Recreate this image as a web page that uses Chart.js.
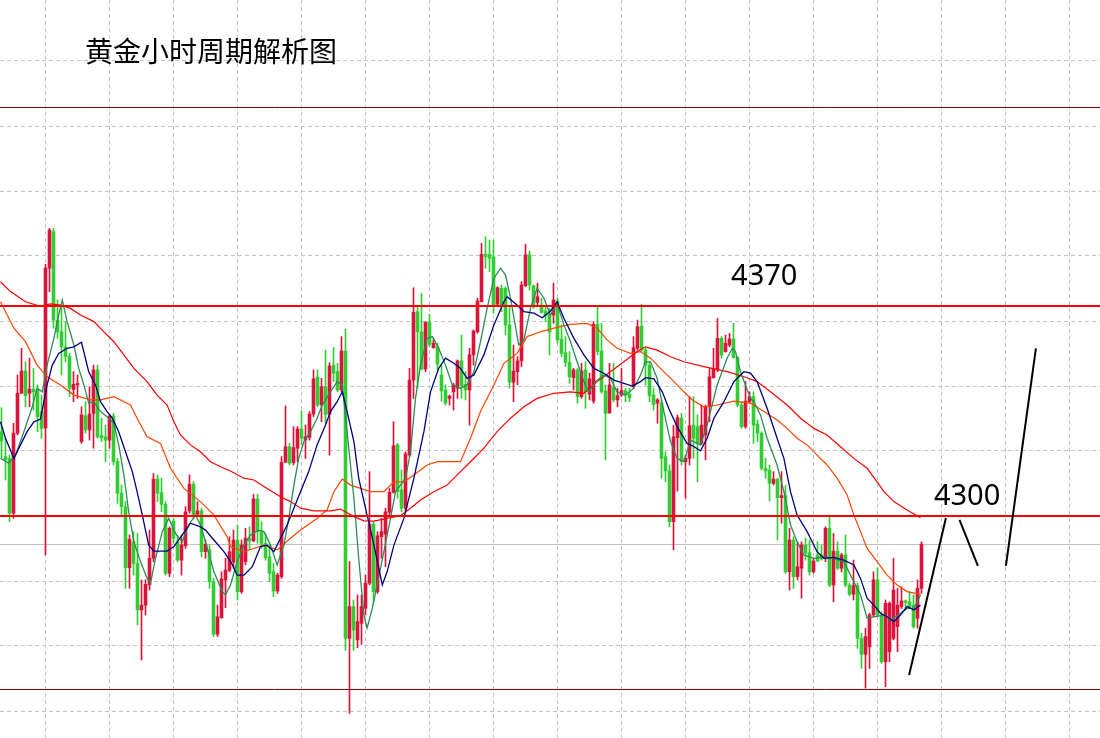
<!DOCTYPE html>
<html>
<head>
<meta charset="utf-8">
<title>黄金小时周期解析图</title>
<script src="https://cdn.jsdelivr.net/npm/chart.js@4.4.1/dist/chart.umd.min.js"></script>
<style>
  html, body { margin: 0; padding: 0; background: #fff; }
  canvas { display: block; }
</style>
</head>
<body>
<canvas id="chart" width="1100" height="738"></canvas>
<script>
// ──────────────────────────────────────────────
// Gold H1 chart — candles, moving averages, levels
// ──────────────────────────────────────────────

const titleText = '黄金小时周期解析图';

// ── Candles (one per hour, oldest first) ──
const open = [
  4328.1, 4319.8, 4319.2, 4300.9, 4327.6, 4340.9, 4348.3, 4340.9, 4342.3, 4342.0,
  4334.8, 4329.4, 4382.6, 4394.8, 4365.3, 4361.4, 4356.4, 4353.3, 4342.2, 4343.7,
  4324.8, 4333.4, 4328.7, 4334.2, 4348.7, 4326.8, 4326.4, 4325.3, 4333.3, 4318.1,
  4307.6, 4303.1, 4282.8, 4291.4, 4284.2, 4268.7, 4270.3, 4277.0, 4285.9, 4312.3,
  4307.8, 4303.9, 4280.9, 4298.3, 4291.4, 4285.3, 4290.1, 4301.7, 4310.6, 4300.6,
  4301.7, 4288.1, 4288.7, 4278.1, 4260.6, 4266.1, 4278.7, 4281.9, 4284.6, 4292.0,
  4274.8, 4284.8, 4292.6, 4291.7, 4305.7, 4294.8, 4290.9, 4286.4, 4281.4, 4275.0,
  4279.8, 4317.9, 4323.1, 4317.8, 4322.6, 4329.0, 4325.3, 4326.2, 4334.0, 4346.3,
  4337.0, 4343.1, 4333.9, 4350.3, 4348.1, 4342.0, 4355.0, 4259.2, 4269.8, 4258.7,
  4264.2, 4269.2, 4277.6, 4297.3, 4274.8, 4293.1, 4293.9, 4301.2, 4307.9, 4323.7,
  4308.7, 4302.6, 4320.3, 4345.3, 4368.1, 4361.4, 4349.0, 4364.6, 4356.1, 4356.4,
  4347.0, 4342.0, 4339.2, 4341.4, 4342.6, 4351.7, 4343.9, 4342.0, 4353.7, 4361.4,
  4371.4, 4387.2, 4387.2, 4386.4, 4370.6, 4375.9, 4375.9, 4363.7, 4344.6, 4348.1,
  4351.7, 4376.8, 4387.0, 4376.7, 4371.2, 4370.3, 4368.3, 4367.2, 4367.0, 4371.7,
  4359.0, 4354.4, 4351.2, 4346.1, 4348.7, 4339.8, 4348.7, 4340.6, 4338.3, 4363.9,
  4355.0, 4341.7, 4334.4, 4342.8, 4338.7, 4340.3, 4341.8, 4340.6, 4343.1, 4355.9,
  4363.3, 4355.3, 4350.3, 4340.3, 4337.6, 4337.6, 4319.8, 4315.0, 4298.1, 4326.1,
  4332.6, 4318.1, 4319.2, 4330.3, 4329.8, 4324.2, 4327.0, 4336.4, 4346.1, 4348.7,
  4359.2, 4354.8, 4357.0, 4359.0, 4352.8, 4337.0, 4329.8, 4338.1, 4339.8, 4330.6,
  4327.6, 4315.9, 4315.3, 4310.9, 4312.3, 4306.1, 4306.8, 4281.4, 4292.0, 4279.8,
  4282.6, 4290.3, 4287.8, 4281.4, 4287.0, 4287.0, 4285.9, 4295.9, 4277.0, 4288.3,
  4282.6, 4287.0, 4277.0, 4273.9, 4276.8, 4259.2, 4253.9, 4256.4, 4267.0, 4278.7,
  4267.0, 4251.4, 4254.8, 4259.2, 4263.1, 4269.8, 4271.7, 4271.4, 4270.3, 4265.9,
  4275.9
];
const high = [
  4336.1, 4325.9, 4320.3, 4330.9, 4347.0, 4355.9, 4351.4, 4352.6, 4349.2, 4343.7,
  4340.3, 4383.9, 4395.9, 4395.9, 4372.0, 4370.3, 4364.8, 4354.2, 4348.1, 4347.0,
  4336.4, 4338.1, 4343.1, 4350.3, 4350.3, 4332.6, 4330.3, 4333.7, 4334.2, 4319.2,
  4310.3, 4304.8, 4293.7, 4294.8, 4294.2, 4278.7, 4278.7, 4295.3, 4314.2, 4313.7,
  4312.6, 4304.8, 4296.4, 4299.2, 4293.7, 4293.7, 4303.1, 4313.7, 4311.4, 4304.8,
  4302.6, 4292.0, 4290.3, 4279.2, 4270.3, 4281.4, 4285.9, 4293.1, 4295.3, 4297.0,
  4292.0, 4295.9, 4296.4, 4307.2, 4307.2, 4298.1, 4294.2, 4290.3, 4284.2, 4280.9,
  4319.8, 4336.7, 4324.2, 4329.8, 4329.8, 4335.0, 4330.3, 4334.8, 4348.7, 4348.7,
  4345.9, 4355.3, 4351.1, 4356.2, 4350.9, 4359.8, 4362.3, 4284.8, 4272.0, 4273.7,
  4273.7, 4280.3, 4314.8, 4298.1, 4294.8, 4299.2, 4302.6, 4309.2, 4331.4, 4324.2,
  4315.3, 4321.4, 4349.2, 4376.1, 4369.8, 4374.2, 4364.8, 4367.2, 4359.2, 4357.6,
  4350.3, 4343.7, 4340.3, 4344.2, 4352.0, 4360.3, 4348.1, 4355.9, 4362.0, 4372.6,
  4390.9, 4393.1, 4392.0, 4392.0, 4376.4, 4377.0, 4376.4, 4369.8, 4357.0, 4353.1,
  4378.1, 4390.6, 4388.3, 4377.0, 4377.6, 4372.6, 4370.3, 4369.2, 4377.6, 4372.6,
  4363.7, 4359.8, 4354.8, 4349.2, 4349.2, 4350.9, 4351.4, 4347.6, 4364.8, 4369.8,
  4364.2, 4343.7, 4350.9, 4350.9, 4342.6, 4349.2, 4342.6, 4342.6, 4359.8, 4365.3,
  4370.6, 4355.9, 4351.4, 4342.6, 4339.2, 4338.7, 4321.4, 4317.0, 4330.3, 4333.7,
  4334.2, 4320.3, 4339.8, 4339.8, 4333.7, 4337.0, 4337.0, 4349.2, 4355.9, 4365.9,
  4359.8, 4360.3, 4360.9, 4364.2, 4353.1, 4338.1, 4344.8, 4341.4, 4341.4, 4332.0,
  4328.1, 4319.2, 4317.0, 4314.8, 4312.6, 4314.8, 4310.3, 4295.9, 4293.1, 4291.4,
  4291.4, 4292.6, 4292.0, 4285.9, 4291.4, 4290.3, 4296.4, 4300.3, 4294.2, 4291.4,
  4287.6, 4293.7, 4277.6, 4285.3, 4277.6, 4260.9, 4262.6, 4267.6, 4281.4, 4282.6,
  4268.1, 4272.0, 4271.4, 4285.9, 4275.9, 4276.4, 4272.0, 4274.8, 4273.7, 4278.7,
  4291.4
];
const low = [
  4319.2, 4312.0, 4298.1, 4299.2, 4327.0, 4340.9, 4336.4, 4336.4, 4335.3, 4328.1,
  4325.9, 4287.0, 4374.8, 4362.6, 4359.2, 4347.0, 4351.4, 4339.8, 4338.1, 4339.2,
  4324.2, 4327.6, 4325.3, 4322.6, 4325.9, 4324.8, 4318.1, 4322.6, 4317.0, 4304.2,
  4300.3, 4275.9, 4275.9, 4280.3, 4263.7, 4252.0, 4267.0, 4275.3, 4284.8, 4304.8,
  4301.4, 4280.3, 4279.8, 4290.9, 4284.8, 4280.3, 4289.2, 4300.9, 4299.2, 4300.3,
  4286.4, 4285.9, 4275.9, 4259.8, 4259.8, 4265.9, 4269.4, 4281.4, 4282.6, 4272.0,
  4274.2, 4283.7, 4288.7, 4291.4, 4290.9, 4289.2, 4285.3, 4278.1, 4273.1, 4274.2,
  4279.2, 4317.9, 4317.0, 4317.0, 4318.1, 4323.7, 4319.2, 4325.3, 4333.1, 4336.4,
  4331.4, 4330.9, 4320.3, 4344.8, 4341.4, 4341.4, 4255.3, 4234.2, 4255.3, 4256.1,
  4257.2, 4267.0, 4277.0, 4271.4, 4274.2, 4285.9, 4283.1, 4300.3, 4307.6, 4305.9,
  4301.4, 4301.4, 4319.8, 4339.2, 4342.6, 4348.7, 4348.1, 4356.4, 4355.9, 4348.7,
  4338.3, 4337.0, 4337.0, 4335.3, 4339.2, 4339.2, 4338.7, 4330.3, 4350.3, 4360.9,
  4371.4, 4382.6, 4381.4, 4367.6, 4370.3, 4368.1, 4360.3, 4342.6, 4338.1, 4343.7,
  4349.8, 4376.4, 4375.3, 4369.2, 4370.3, 4367.6, 4364.8, 4353.7, 4364.2, 4357.6,
  4353.1, 4349.8, 4344.2, 4342.0, 4337.6, 4339.2, 4335.9, 4338.7, 4337.6, 4353.7,
  4340.9, 4318.7, 4334.2, 4338.1, 4336.4, 4339.8, 4338.1, 4338.1, 4342.6, 4355.3,
  4354.8, 4343.7, 4338.1, 4335.3, 4330.9, 4312.6, 4311.4, 4296.4, 4288.7, 4308.3,
  4317.0, 4305.9, 4317.0, 4319.2, 4311.4, 4323.7, 4318.7, 4331.4, 4345.9, 4348.1,
  4352.6, 4354.6, 4356.4, 4352.6, 4336.4, 4329.2, 4329.2, 4337.6, 4324.2, 4324.8,
  4315.3, 4312.6, 4305.0, 4310.3, 4292.0, 4297.6, 4280.9, 4275.3, 4275.9, 4278.7,
  4272.6, 4285.3, 4280.3, 4280.9, 4284.8, 4285.3, 4284.8, 4276.4, 4271.4, 4282.0,
  4281.4, 4276.4, 4273.4, 4272.0, 4255.9, 4249.2, 4242.6, 4249.2, 4266.4, 4266.4,
  4250.9, 4243.1, 4251.4, 4258.7, 4254.8, 4269.2, 4269.2, 4269.2, 4262.6, 4262.6,
  4274.2
];
const close = [
  4325.0, 4318.7, 4300.9, 4327.6, 4340.9, 4348.3, 4340.1, 4342.3, 4341.4, 4333.1,
  4329.2, 4382.6, 4395.3, 4365.3, 4361.4, 4356.4, 4353.1, 4342.6, 4343.9, 4344.2,
  4333.7, 4328.7, 4334.0, 4348.7, 4326.4, 4326.1, 4325.3, 4333.3, 4318.1, 4307.6,
  4303.1, 4282.8, 4292.2, 4284.2, 4268.7, 4270.3, 4277.2, 4285.9, 4312.3, 4307.6,
  4303.9, 4280.9, 4295.9, 4292.6, 4285.3, 4290.3, 4301.4, 4310.6, 4300.3, 4301.7,
  4288.1, 4290.6, 4278.1, 4260.6, 4266.4, 4279.0, 4282.0, 4288.1, 4292.0, 4274.8,
  4290.3, 4292.6, 4291.7, 4305.7, 4294.8, 4290.9, 4286.1, 4280.9, 4275.0, 4280.3,
  4317.9, 4323.1, 4317.6, 4322.8, 4329.0, 4325.9, 4326.4, 4334.0, 4345.7, 4337.0,
  4343.1, 4333.9, 4350.0, 4347.6, 4342.0, 4355.0, 4259.2, 4269.8, 4262.0, 4264.8,
  4269.8, 4277.6, 4297.3, 4274.8, 4293.4, 4294.8, 4301.4, 4307.9, 4323.4, 4308.1,
  4302.6, 4320.7, 4345.3, 4367.9, 4361.4, 4349.0, 4364.6, 4357.2, 4357.6, 4350.6,
  4341.7, 4337.6, 4340.0, 4343.7, 4351.7, 4343.4, 4342.0, 4353.7, 4361.7, 4371.7,
  4387.2, 4386.4, 4385.9, 4370.3, 4376.1, 4369.8, 4363.7, 4344.6, 4348.3, 4351.7,
  4377.0, 4387.0, 4377.0, 4370.3, 4373.1, 4367.9, 4366.8, 4361.4, 4372.0, 4358.7,
  4354.2, 4351.2, 4346.4, 4348.7, 4339.8, 4348.3, 4341.4, 4345.7, 4363.9, 4354.8,
  4341.4, 4334.2, 4343.7, 4338.7, 4340.1, 4341.8, 4340.3, 4339.4, 4356.1, 4363.1,
  4355.3, 4350.3, 4340.1, 4337.2, 4338.7, 4319.2, 4315.0, 4298.1, 4326.4, 4332.8,
  4318.1, 4319.2, 4330.1, 4325.9, 4324.2, 4330.3, 4336.4, 4346.4, 4349.0, 4359.2,
  4353.7, 4357.6, 4359.0, 4352.8, 4337.0, 4329.8, 4338.3, 4339.8, 4330.3, 4327.6,
  4315.9, 4315.0, 4310.9, 4312.3, 4306.1, 4306.8, 4281.4, 4292.0, 4279.8, 4283.1,
  4290.3, 4287.6, 4281.4, 4285.0, 4285.0, 4285.7, 4295.9, 4277.0, 4288.3, 4282.6,
  4287.0, 4277.0, 4273.9, 4276.8, 4259.2, 4253.9, 4259.8, 4267.0, 4278.7, 4267.0,
  4251.4, 4270.9, 4270.9, 4275.3, 4270.3, 4271.7, 4271.2, 4269.8, 4263.1, 4275.9,
  4290.6
];

// ── Moving averages (x = candle index) ──
const maFastX = [-0.25, 1.8, 3.5, 5.6, 7.7, 8.9, 10.2, 11.4, 13.1, 14.3, 15.2, 16.4, 18.1, 19.3, 20.6, 21.8, 23.1, 24.75, 26.4, 28.1,
  29.3, 30.6, 31.8, 33.1, 34.75, 36.4, 37.25, 38.5, 40.2, 41.8, 43.5, 45.2, 46.8, 48.5, 49.75, 51.0, 53.1, 55.2, 56.0, 57.25,
  58.9, 60.6, 62.25, 64.3, 65.6, 67.25, 68.9, 70.6, 71.8, 73.1, 74.3, 75.6, 77.25, 78.9, 80.2, 82.25, 83.9, 85.2, 86.4, 88.1,
  89.3, 90.6, 91.4, 92.7, 93.9, 95.6, 97.25, 98.5, 99.75, 101.0, 102.25, 103.5, 104.75, 106.4, 107.7, 109.3, 111.0, 112.7, 114.75, 116.4,
  118.1, 119.75, 121.4, 123.1, 124.75, 126.0, 127.25, 129.3, 130.6, 132.25, 133.9, 135.6, 137.25, 138.9, 140.6, 142.25, 143.9, 145.6, 146.8, 148.5,
  150.6, 152.25, 153.9, 156.0, 158.1, 159.75, 161.0, 162.25, 163.9, 165.6, 167.25, 168.9, 170.6, 172.25, 174.75, 176.4, 178.9, 181.4, 182.7, 183.5,
  184.75, 187.25, 188.1, 189.75, 191.4, 193.9, 195.6, 197.25, 198.9, 200.6, 203.1, 205.6, 208.1, 210.6, 212.25, 214.75, 216.4, 218.1, 220.6, 222.25,
  224.75, 226.4, 228.1, 229.75];
const maFast = [4319.2, 4317.6, 4320.3, 4328.1, 4336.4, 4342.6, 4341.4, 4350.3, 4359.2, 4367.0, 4372.0, 4364.8, 4357.0, 4349.2, 4343.7, 4337.6, 4338.1, 4334.8, 4333.1, 4330.9,
  4323.7, 4313.7, 4301.4, 4291.4, 4284.8, 4279.2, 4277.6, 4285.9, 4294.8, 4299.2, 4294.2, 4291.4, 4297.0, 4300.3, 4297.0, 4291.4, 4281.4, 4274.8, 4273.7, 4277.0,
  4284.8, 4290.3, 4293.7, 4295.3, 4294.8, 4290.3, 4283.7, 4290.3, 4299.2, 4310.3, 4319.2, 4324.8, 4328.1, 4332.6, 4337.0, 4341.4, 4344.8, 4343.7, 4328.1, 4305.9,
  4285.9, 4267.0, 4262.6, 4269.2, 4277.0, 4288.1, 4299.2, 4308.1, 4310.3, 4312.6, 4321.4, 4339.2, 4350.3, 4359.2, 4359.8, 4355.9, 4350.3, 4343.7, 4342.6, 4343.7,
  4348.1, 4358.1, 4369.2, 4379.2, 4382.6, 4380.3, 4372.6, 4357.0, 4358.7, 4369.2, 4375.9, 4372.6, 4367.0, 4370.9, 4363.7, 4358.1, 4351.4, 4344.8, 4341.4, 4344.8,
  4347.0, 4345.9, 4341.4, 4340.3, 4342.6, 4347.0, 4351.4, 4351.4, 4345.9, 4334.8, 4324.8, 4319.2, 4318.1, 4325.3, 4323.7, 4330.3, 4343.7, 4352.6, 4355.9, 4354.8,
  4348.1, 4339.2, 4338.1, 4333.7, 4325.9, 4317.0, 4308.1, 4297.0, 4291.4, 4287.0, 4285.9, 4286.4, 4285.9, 4284.8, 4280.3, 4273.7, 4265.9, 4266.4, 4267.0, 4265.3,
  4267.6, 4269.2, 4269.2, 4273.7];

const maMidX = [-0.25, 1.0, 3.1, 4.75, 6.4, 8.1, 9.75, 11.4, 12.7, 14.3, 16.4, 18.1, 20.0, 21.8, 23.5, 24.75, 26.4, 27.7, 29.3, 31.0,
  32.7, 33.9, 35.2, 36.8, 38.1, 41.4, 43.1, 45.2, 47.25, 49.75, 51.0, 53.1, 55.6, 57.75, 58.9, 60.6, 62.7, 64.75, 66.4, 68.1,
  69.75, 71.4, 73.1, 74.75, 76.8, 78.9, 81.0, 82.25, 83.9, 85.2, 86.4, 88.1, 89.3, 91.0, 93.1, 95.2, 96.4, 98.1, 100.6, 103.1,
  105.6, 107.25, 109.3, 111.0, 113.1, 114.75, 116.4, 118.1, 120.6, 123.1, 125.6, 126.4, 128.9, 130.6, 133.1, 135.2, 137.25, 138.9, 140.6, 143.1,
  145.6, 148.1, 150.6, 153.1, 155.6, 157.7, 159.75, 161.0, 163.1, 165.2, 166.8, 168.9, 171.4, 172.75, 174.75, 176.4, 178.1, 180.6, 183.1, 185.6,
  187.25, 188.9, 191.4, 193.9, 195.6, 197.25, 198.9, 201.4, 203.9, 205.6, 208.1, 210.6, 213.1, 214.75, 216.4, 218.1, 219.75, 221.4, 223.1, 224.75,
  226.4, 228.1, 229.75];
const maMid = [4331.4, 4325.9, 4319.2, 4323.7, 4328.1, 4331.4, 4332.3, 4343.7, 4350.3, 4354.2, 4355.9, 4356.4, 4357.9, 4348.1, 4343.7, 4338.1, 4334.8, 4332.6, 4328.1, 4321.4,
  4314.8, 4308.1, 4300.3, 4290.3, 4288.3, 4288.3, 4289.8, 4293.7, 4297.6, 4296.4, 4295.3, 4292.0, 4288.1, 4283.7, 4280.3, 4280.3, 4283.1, 4289.8, 4290.3, 4288.1,
  4292.6, 4297.0, 4302.6, 4308.1, 4314.8, 4323.7, 4330.3, 4334.8, 4338.1, 4341.4, 4334.8, 4324.8, 4312.6, 4302.6, 4290.3, 4277.0, 4281.4, 4290.3, 4299.2, 4312.6,
  4328.1, 4341.4, 4349.2, 4352.6, 4350.9, 4349.2, 4345.9, 4347.0, 4353.7, 4363.7, 4371.4, 4373.1, 4370.3, 4368.1, 4367.6, 4366.1, 4368.3, 4371.4, 4365.9, 4359.2,
  4353.7, 4349.2, 4347.6, 4345.3, 4344.2, 4343.3, 4344.8, 4346.1, 4345.7, 4341.4, 4335.9, 4329.8, 4324.2, 4323.4, 4321.7, 4325.9, 4332.6, 4338.1, 4344.8, 4348.1,
  4347.6, 4344.8, 4335.9, 4325.9, 4319.2, 4308.1, 4300.3, 4294.8, 4288.1, 4285.9, 4286.2, 4285.3, 4283.7, 4279.2, 4272.6, 4270.3, 4267.6, 4266.4, 4264.8, 4267.0,
  4269.8, 4268.7, 4270.3];

const maSlowX = [-0.25, 3.1, 6.0, 8.9, 11.4, 14.75, 18.1, 22.25, 24.75, 28.1, 32.25, 33.9, 36.4, 39.75, 42.25, 45.6, 49.75, 53.1, 56.4, 57.25,
  60.6, 65.6, 69.0, 72.25, 74.75, 78.9, 81.4, 83.1, 85.2, 87.25, 89.75, 92.25, 95.6, 98.1, 100.6, 103.1, 106.4, 109.0, 114.75, 117.25,
  119.75, 123.1, 125.6, 128.9, 131.4, 134.75, 138.1, 142.25, 146.4, 148.9, 151.4, 153.9, 157.25, 159.75, 162.25, 164.75, 168.1, 170.6, 172.75, 175.6,
  178.9, 183.1, 187.25, 190.6, 193.9, 196.4, 198.9, 201.4, 203.9, 206.4, 208.9, 211.4, 213.1, 214.75, 216.4, 218.9, 221.4, 223.9, 226.4, 229.75];
const maSlow = [4371.4, 4362.6, 4358.1, 4350.3, 4346.4, 4343.7, 4340.3, 4338.7, 4338.7, 4339.8, 4337.0, 4332.6, 4326.4, 4324.2, 4315.9, 4309.2, 4304.8, 4300.3, 4293.1, 4289.8,
  4288.1, 4290.3, 4288.7, 4292.6, 4295.3, 4299.2, 4302.0, 4308.1, 4312.3, 4310.3, 4309.2, 4308.1, 4308.1, 4311.4, 4311.4, 4313.7, 4317.0, 4318.1, 4318.1, 4325.9,
  4334.8, 4343.7, 4350.9, 4354.2, 4359.8, 4361.4, 4362.6, 4363.9, 4364.2, 4362.6, 4358.7, 4355.9, 4354.2, 4354.8, 4352.6, 4349.2, 4344.8, 4341.4, 4338.7, 4336.4,
  4337.0, 4338.3, 4337.6, 4334.8, 4332.0, 4329.2, 4325.9, 4323.7, 4320.3, 4317.0, 4312.6, 4307.0, 4300.3, 4294.8, 4289.2, 4284.8, 4280.3, 4277.0, 4274.8, 4273.9];

const maLongX = [-0.25, 2.25, 6.0, 9.75, 12.25, 14.75, 17.25, 19.75, 23.1, 25.6, 28.1, 30.6, 33.1, 36.4, 38.9, 41.4, 43.1, 44.75, 47.25, 49.75,
  52.25, 54.75, 57.25, 60.6, 63.1, 66.4, 69.75, 72.25, 74.75, 78.1, 82.25, 84.75, 88.1, 90.6, 93.1, 96.4, 99.75, 102.25, 104.75, 108.1,
  111.4, 114.75, 117.25, 120.6, 123.9, 127.25, 130.6, 133.9, 138.1, 142.25, 145.6, 148.9, 152.25, 155.6, 158.9, 161.0, 163.9, 167.25, 170.6, 175.6,
  181.4, 186.4, 188.9, 192.25, 196.4, 199.75, 203.1, 206.4, 209.75, 213.1, 216.4, 218.9, 220.6, 223.1, 226.4, 229.75];
const maLong = [4378.1, 4374.8, 4371.4, 4369.9, 4370.7, 4370.3, 4369.2, 4367.0, 4364.8, 4361.4, 4358.1, 4353.7, 4349.2, 4344.8, 4340.3, 4337.0, 4331.4, 4327.0, 4323.7, 4321.4,
  4318.1, 4316.4, 4315.0, 4312.6, 4312.0, 4309.2, 4306.4, 4304.8, 4302.6, 4301.7, 4301.7, 4302.3, 4299.8, 4298.4, 4298.3, 4299.2, 4300.1, 4302.6, 4305.3, 4308.1,
  4310.3, 4314.8, 4318.1, 4322.6, 4328.1, 4332.6, 4336.4, 4339.2, 4340.9, 4341.4, 4340.9, 4344.8, 4348.1, 4351.4, 4354.8, 4356.4, 4355.3, 4353.1, 4351.4, 4349.8,
  4348.1, 4346.1, 4344.8, 4341.4, 4337.0, 4332.6, 4329.2, 4327.0, 4323.1, 4319.2, 4315.9, 4311.4, 4308.1, 4304.8, 4302.0, 4299.4];

// ── Levels & hand-drawn strokes ──
const keyLevels = [4370, 4300];
const rangeLevels = [4436.17, 4242.17];
const lastPrice = 4290.5;
const levelSpan = [-1, 276];
const strokeX = [[226.9, 236.1], [239.5, 244.1], [251.1, 258.6]];
const strokeY = [[4247.0, 4299.3], [4298.7, 4283.4], [4283.4, 4355.9]];
const noteText = ['4370', '4300'];
const noteX = [182.4, 233.1];
const noteY = [4377.0, 4303.7];

// ── Grid positions ──
const xGridTicks = [11, 27, 43, 59, 75, 91, 107, 123, 139, 155, 171, 187, 203, 219, 235, 251, 267];
const yGridTicks = [4235, 4256.67, 4278.33, 4300, 4321.67, 4343.33, 4365, 4386.67, 4408.33, 4430, 4451.67];

// ── Build datasets ──
const UP = '#dc143c';
const DOWN = '#32cd32';
const idx = open.map((_, i) => i);
const candleColors = idx.map(i => (close[i] >= open[i] ? UP : DOWN));

function pts(xs, ys) {
  return xs.map((x, i) => ({ x, y: ys[i] }));
}
function flat(v) {
  return levelSpan.map(x => ({ x, y: v }));
}
function lineSet(data, color, width, order) {
  return {
    type: 'line', data, borderColor: color, borderWidth: width,
    pointRadius: 0, fill: false, tension: 0, order,
  };
}

const datasets = [
  {
    type: 'bar',
    data: idx.map(i => ({ x: i, y: [low[i], high[i]] })),
    backgroundColor: candleColors,
    borderWidth: 0,
    barThickness: 1,
    grouped: false,
    order: 6,
  },
  {
    type: 'bar',
    data: idx.map(i => ({ x: i, y: [open[i], close[i]] })),
    backgroundColor: candleColors,
    borderWidth: 0,
    barThickness: 3,
    minBarLength: 1,
    grouped: false,
    order: 5,
  },
  lineSet(flat(lastPrice), '#c0c0c0', 1, 7),
  lineSet(pts(maLongX, maLong), '#ff0000', 1.2, 4),
  lineSet(pts(maSlowX, maSlow), '#ff4500', 1.2, 4),
  lineSet(pts(maMidX, maMid), '#000080', 1.3, 3),
  lineSet(pts(maFastX, maFast), '#2e8b57', 1.3, 3),
  ...keyLevels.map(v => lineSet(flat(v), '#ff0000', 2, 1)),
  ...rangeLevels.map(v => lineSet(flat(v), '#800000', 1, 1)),
  ...strokeX.map((xs, k) => lineSet(pts(xs, strokeY[k]), '#000000', 2, 0)),
];

// ── Text overlay ──
const notesPlugin = {
  id: 'notes',
  afterDatasetsDraw(chart) {
    const { ctx, scales } = chart;
    ctx.save();
    ctx.fillStyle = '#000';
    ctx.textAlign = 'left';
    ctx.textBaseline = 'middle';
    ctx.font = '28px "Noto Sans CJK SC"';
    ctx.fillText(titleText, 85, 51);
    ctx.textBaseline = 'alphabetic';
    ctx.font = '29px "Noto Sans"';
    noteText.forEach((t, i) => {
      ctx.fillText(t, scales.x.getPixelForValue(noteX[i]), scales.y.getPixelForValue(noteY[i]));
    });
    ctx.restore();
  },
};

// ── Chart ──
const gridStyle = { color: '#c4c4c4', lineWidth: 1, drawTicks: false, tickLength: 0, offset: false };

new Chart(document.getElementById('chart').getContext('2d'), {
  type: 'bar',
  data: { datasets },
  options: {
    responsive: false,
    animation: false,
    devicePixelRatio: 1,
    events: [],
    layout: { padding: 0 },
    plugins: { legend: { display: false }, tooltip: { enabled: false } },
    scales: {
      x: {
        type: 'linear',
        min: -0.375,
        max: 274.625,
        offset: false,
        grid: gridStyle,
        border: { display: false, dash: [4, 3] },
        ticks: { display: false },
        afterBuildTicks: s => { s.ticks = xGridTicks.map(value => ({ value })); },
      },
      y: {
        type: 'linear',
        min: 4226,
        max: 4472,
        grid: gridStyle,
        border: { display: false, dash: [4, 3] },
        ticks: { display: false },
        afterBuildTicks: s => { s.ticks = yGridTicks.map(value => ({ value })); },
      },
    },
  },
  plugins: [notesPlugin],
});
</script>
</body>
</html>
